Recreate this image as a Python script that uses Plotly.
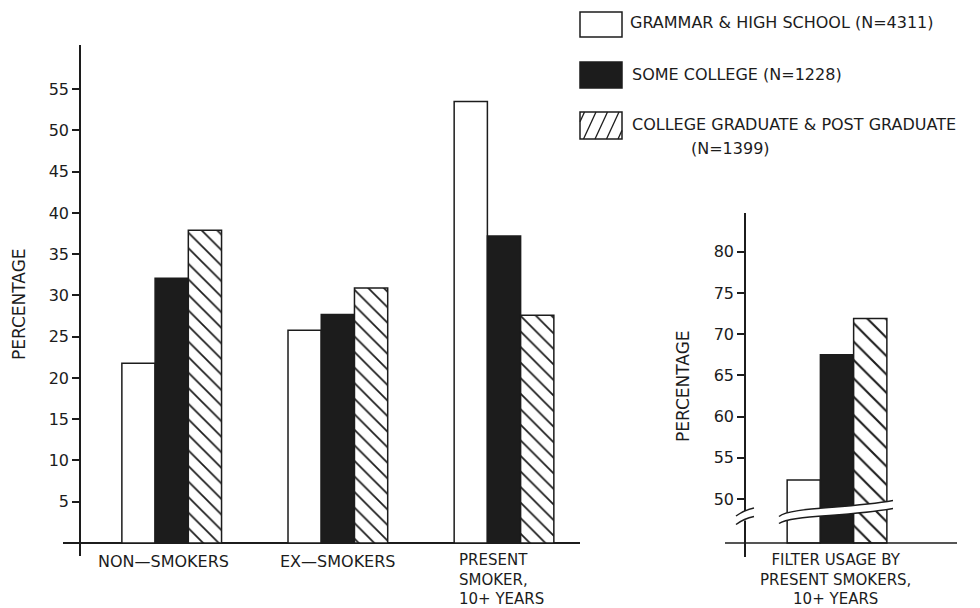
import plotly.graph_objects as go

# ---------------- data ----------------
categories = ["NON—SMOKERS", "EX—SMOKERS", "PRESENT<br>SMOKER,<br>10+ YEARS"]
grammar_hs = [21.8, 25.8, 53.5]
some_college = [32.1, 27.7, 37.2]
college_grad = [37.9, 30.9, 27.6]

filter_category = ["FILTER USAGE BY<br>PRESENT SMOKERS,<br>10+ YEARS"]
filter_grammar_hs = [52.3]
filter_some_college = [67.5]
filter_college_grad = [71.9]

series_names = ["GRAMMAR & HIGH SCHOOL (N=4311)",
                "SOME COLLEGE (N=1228)",
                "COLLEGE GRADUATE & POST GRADUATE<br>(N=1399)"]

left_ticks = [5, 10, 15, 20, 25, 30, 35, 40, 45, 50, 55]
right_ticks = [50, 55, 60, 65, 70, 75, 80]
BREAK_BASE = 44.66   # where the broken right-hand axis meets the x axis

# ---------------- styling helpers ----------------
W, H = 980, 608
INK = "#1c1c1c"
FONT = "DejaVu Sans"


def X(px):
    return px / W


def Y(py):
    return 1 - py / H


BAR_W = 0.2
OFFS = [-0.3, -0.1, 0.1]


def bar_marker(kind, size):
    line = dict(color=INK, width=1.5)
    if kind == 0:
        return dict(color="white", line=line)
    if kind == 1:
        return dict(color=INK, line=line)
    return dict(color="white", line=line,
                pattern=dict(shape="\\", size=size, solidity=0.16,
                             fgcolor=INK, bgcolor="white", fgopacity=1,
                             fillmode="overlay"))


fig = go.Figure()

xs = list(range(len(categories)))
for k, vals in enumerate([grammar_hs, some_college, college_grad]):
    fig.add_trace(go.Bar(x=xs, y=vals, width=BAR_W, offset=OFFS[k],
                         marker=bar_marker(k, 11), name=series_names[k],
                         showlegend=False, hoverinfo="skip",
                         xaxis="x", yaxis="y"))

for k, vals in enumerate([filter_grammar_hs, filter_some_college, filter_college_grad]):
    fig.add_trace(go.Bar(x=[0], y=[v - BREAK_BASE for v in vals], base=BREAK_BASE,
                         width=BAR_W, offset=OFFS[k],
                         marker=bar_marker(k, 13), name=series_names[k],
                         showlegend=False, hoverinfo="skip",
                         xaxis="x2", yaxis="y2"))

axis_common = dict(showgrid=False, color=INK,
                   tickfont=dict(family=FONT, size=16, color=INK))

fig.update_layout(
    width=W, height=H,
    margin=dict(l=0, r=0, t=0, b=0),
    paper_bgcolor="white", plot_bgcolor="white",
    barmode="overlay",
    font=dict(family=FONT, size=16, color=INK),
    xaxis=dict(domain=[X(63), X(580)], range=[-0.6543, 2.4574],
               showticklabels=False, ticks="", showline=False,
               zeroline=False, showgrid=False, anchor="y"),
    yaxis=dict(domain=[Y(556), Y(45)], range=[-1.576, 60.36],
               anchor="free", position=X(80),
               tickvals=left_ticks, ticks="outside", ticklen=7,
               tickwidth=1.5, tickcolor=INK,
               showline=True, linewidth=1.5, linecolor=INK,
               zeroline=True, zerolinewidth=1.5, zerolinecolor=INK,
               **axis_common),
    xaxis2=dict(domain=[X(725), X(957)], range=[-0.674, 0.722],
                showticklabels=False, ticks="", showline=False,
                zeroline=False, showgrid=False, anchor="y2"),
    yaxis2=dict(domain=[Y(557), Y(213)], range=[42.96, 84.71],
                anchor="free", position=X(745),
                tickvals=right_ticks, ticks="outside", ticklen=7,
                tickwidth=1.5, tickcolor=INK,
                showline=True, linewidth=1.5, linecolor=INK,
                zeroline=False, **axis_common),
)

shapes = []
annotations = []

# x axis line for the right-hand (broken) panel
shapes.append(dict(type="line", xref="x2 domain", yref="y2",
                   x0=0, x1=1, y0=BREAK_BASE, y1=BREAK_BASE,
                   line=dict(color=INK, width=1.5)))

# break band across the right-hand bars
def pt(px, py):
    return f"{X(px):.5f},{Y(py):.5f}"

band = ("M " + pt(779, 516.5) + " C " + pt(790, 507) + " " + pt(845, 509) + " " + pt(893, 500.5) +
        " L " + pt(893, 508.5) + " C " + pt(845, 517) + " " + pt(790, 515) + " " + pt(779, 523.5) + " Z")
shapes.append(dict(type="path", xref="paper", yref="paper", path=band,
                   fillcolor="white", line=dict(width=0)))
upper = "M " + pt(779, 516.5) + " C " + pt(790, 507) + " " + pt(845, 509) + " " + pt(893, 500.5)
lower = "M " + pt(779, 523.5) + " C " + pt(790, 515) + " " + pt(845, 517) + " " + pt(893, 508.5)
for p in (upper, lower):
    shapes.append(dict(type="path", xref="paper", yref="paper", path=p,
                       line=dict(color=INK, width=1.5)))

# break marks on the right-hand y axis
shapes.append(dict(type="rect", xref="paper", yref="paper",
                   x0=X(742), x1=X(748), y0=Y(520.5), y1=Y(511),
                   fillcolor="white", line=dict(width=0)))
for (a, b) in [((736, 516), (754, 508)), ((736, 524.5), (754, 516.5))]:
    shapes.append(dict(type="path", xref="paper", yref="paper",
                       path="M " + pt(*a) + " Q " + pt(744, 510 if a[1] < 520 else 518.5) + " " + pt(*b),
                       line=dict(color=INK, width=1.5)))

# ---------------- legend (drawn) ----------------
boxes = [(12, 37), (62, 88), (112, 139)]
bx0, bx1 = 580, 622
for k, (t, b) in enumerate(boxes):
    shapes.append(dict(type="rect", xref="paper", yref="paper",
                       x0=X(bx0), x1=X(bx1), y0=Y(b), y1=Y(t),
                       fillcolor=INK if k == 1 else "white",
                       line=dict(color=INK, width=1.5)))
# "/" hatch in third legend box
t, b = boxes[2]
for j in range(5):
    xb = 572 + 11.5 * j
    xt = xb + 12.5

    def at(xv):
        f = (xv - xb) / (xt - xb)
        return b + (t - b) * f
    x0c, x1c = max(xb, bx0), min(xt, bx1)
    if x1c <= x0c:
        continue
    shapes.append(dict(type="line", xref="paper", yref="paper",
                       x0=X(x0c), y0=Y(at(x0c)), x1=X(x1c), y1=Y(at(x1c)),
                       line=dict(color=INK, width=1.3)))

legend_text = [(628, 23, "GRAMMAR & HIGH SCHOOL (N=4311)"),
               (630, 75, "SOME COLLEGE (N=1228)"),
               (630, 124, "COLLEGE GRADUATE & POST GRADUATE"),
               (689, 148, "(N=1399)")]
for px, py, txt in legend_text:
    annotations.append(dict(xref="paper", yref="paper", x=X(px), y=Y(py),
                            text=txt, showarrow=False, xanchor="left",
                            yanchor="middle", font=dict(family=FONT, size=16, color=INK)))

# ---------------- category labels ----------------
LBL_TOP = 549
LBL_FONT = dict(family=FONT, size=15, color=INK)
annotations.append(dict(xref="x", yref="paper", x=xs[0] - 0.05, y=Y(LBL_TOP + 1), text=categories[0],
                        showarrow=False, xanchor="center", yanchor="top", font=dict(family=FONT, size=16, color=INK)))
annotations.append(dict(xref="x", yref="paper", x=xs[1], y=Y(LBL_TOP + 1), text=categories[1],
                        showarrow=False, xanchor="center", yanchor="top", font=dict(family=FONT, size=16, color=INK)))
annotations.append(dict(xref="x", yref="paper", x=xs[2] - 0.285, y=Y(LBL_TOP), text=categories[2],
                        showarrow=False, xanchor="left", yanchor="top", align="left", font=LBL_FONT))
annotations.append(dict(xref="x2", yref="paper", x=-0.012, y=Y(LBL_TOP), text=filter_category[0],
                        showarrow=False, xanchor="center", yanchor="top", align="center", font=LBL_FONT))

# axis titles
annotations.append(dict(xref="paper", yref="paper", x=X(19), y=Y(304), text="PERCENTAGE",
                        textangle=-90, showarrow=False, xanchor="center", yanchor="middle",
                        font=dict(family=FONT, size=17, color=INK)))
annotations.append(dict(xref="paper", yref="paper", x=X(683), y=Y(386), text="PERCENTAGE",
                        textangle=-90, showarrow=False, xanchor="center", yanchor="middle",
                        font=dict(family=FONT, size=17, color=INK)))

fig.update_layout(shapes=shapes, annotations=annotations)
fig.write_html("out.html",
               config={"displayModeBar": False},
               post_script="document.body.style.margin='0px';document.body.style.overflow='hidden';")
